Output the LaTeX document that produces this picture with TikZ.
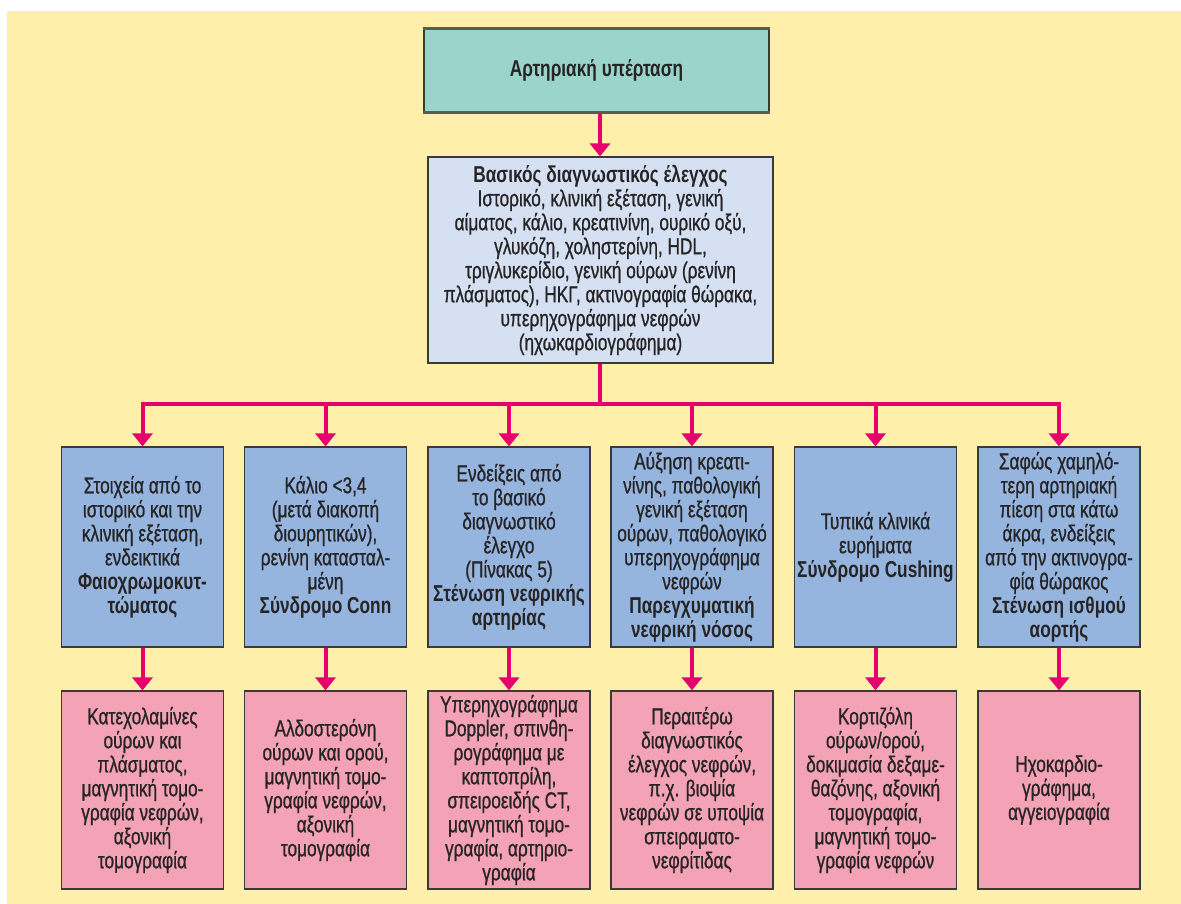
\documentclass[tikz,border=0pt]{standalone}
\usepackage{fontspec}
\setmainfont{Liberation Sans}[FakeStretch=0.75, UprightFeatures={FakeBold=0.8}]
\usetikzlibrary{arrows.meta}
\definecolor{bgY}{HTML}{FEEFAB}
\definecolor{tealF}{HTML}{9AD4CB}
\definecolor{lblueF}{HTML}{D5E0F2}
\definecolor{blueF}{HTML}{95B4DE}
\definecolor{pinkF}{HTML}{F4A2B5}
\definecolor{mag}{HTML}{E6006E}
\definecolor{boxline}{HTML}{3A3A3A}
\definecolor{txt}{HTML}{262425}
\begin{document}
\begin{tikzpicture}[x=1pt,y=-1pt,
  box/.style={draw=boxline, line width=1.2pt, align=center, inner sep=0pt, text=txt,
    font=\fontsize{23}{24}\selectfont},
  topbox/.style={box, fill=tealF, minimum width=345pt, minimum height=83pt},
  midbox/.style={box, fill=lblueF, minimum width=345pt, minimum height=206pt},
  bluebox/.style={box, fill=blueF, minimum width=162pt, minimum height=200pt},
  pinkbox/.style={box, fill=pinkF, minimum width=162pt, minimum height=198pt},
  conn/.style={draw=mag, line width=4pt},
  arr/.style={conn, -{Triangle[width=20pt,length=13pt]}}
]
\useasboundingbox (0,0) rectangle (1181,904);
\fill[bgY] (7,11) rectangle (1181,904);

\node[topbox] (top) at (596.5,70.5) {\textbf{Αρτηριακή υπέρταση}};
\draw[draw=black!65, line width=2.5pt] (top.north west) -- (top.north east);
\draw[draw=black!65, line width=2.5pt] (top.south west) -- (top.south east);

\node[midbox] (mid) at (600.5,260) {\textbf{Βασικός διαγνωστικός έλεγχος}\\
Ιστορικό, κλινική εξέταση, γενική\\
αίματος, κάλιο, κρεατινίνη, ουρικό οξύ,\\
γλυκόζη, χοληστερίνη, HDL,\\
τριγλυκερίδιο, γενική ούρων (ρενίνη\\
πλάσματος), ΗΚΓ, ακτινογραφία θώρακα,\\
υπερηχογράφημα νεφρών\\
(ηχωκαρδιογράφημα)};

\node[bluebox] (a1) at (142.5,547) {Στοιχεία από το\\ιστορικό και την\\κλινική εξέταση,\\ενδεικτικά\\\textbf{Φαιοχρωμοκυτ-}\\\textbf{τώματος}};
\node[bluebox] (a2) at (325.5,547) {Κάλιο <3,4\\(μετά διακοπή\\διουρητικών),\\ρενίνη κατασταλ-\\μένη\\\textbf{Σύνδρομο Conn}};
\node[bluebox] (a3) at (509,547) {Ενδείξεις από\\το βασικό\\διαγνωστικό\\έλεγχο\\(Πίνακας 5)\\\textbf{Στένωση νεφρικής}\\\textbf{αρτηρίας}};
\node[bluebox] (a4) at (692,547) {Αύξηση κρεατι-\\νίνης, παθολογική\\γενική εξέταση\\ούρων, παθολογικό\\υπερηχογράφημα\\νεφρών\\\textbf{Παρεγχυματική}\\\textbf{νεφρική νόσος}};
\node[bluebox] (a5) at (875.5,547) {Τυπικά κλινικά\\ευρήματα\\\textbf{Σύνδρομο Cushing}};
\node[bluebox] (a6) at (1059,547) {Σαφώς χαμηλό-\\τερη αρτηριακή\\πίεση στα κάτω\\άκρα, ενδείξεις\\από την ακτινογρα-\\φία θώρακος\\\textbf{Στένωση ισθμού}\\\textbf{αορτής}};

\node[pinkbox] (b1) at (142.5,790) {Κατεχολαμίνες\\ούρων και\\πλάσματος,\\μαγνητική τομο-\\γραφία νεφρών,\\αξονική\\τομογραφία};
\node[pinkbox] (b2) at (325.5,790) {Αλδοστερόνη\\ούρων και ορού,\\μαγνητική τομο-\\γραφία νεφρών,\\αξονική\\τομογραφία};
\node[pinkbox] (b3) at (509,790) {Υπερηχογράφημα\\Doppler, σπινθη-\\ρογράφημα με\\καπτοπρίλη,\\σπειροειδής CT,\\μαγνητική τομο-\\γραφία, αρτηριο-\\γραφία};
\node[pinkbox] (b4) at (692,790) {Περαιτέρω\\διαγνωστικός\\έλεγχος νεφρών,\\π.χ. βιοψία\\νεφρών σε υποψία\\σπειραματο-\\νεφρίτιδας};
\node[pinkbox] (b5) at (875.5,790) {Κορτιζόλη\\ούρων/ορού,\\δοκιμασία δεξαμε-\\θαζόνης, αξονική\\τομογραφία,\\μαγνητική τομο-\\γραφία νεφρών};
\node[pinkbox] (b6) at (1059,790) {Ηχοκαρδιο-\\γράφημα,\\αγγειογραφία};

\coordinate (j) at (600,404);
\draw[arr] (top.south -| j) -- (mid.north -| j);
\draw[conn] (mid.south -| j) -- (j);
\draw[conn, line cap=rect] (a1.north |- j) -- (a6.north |- j);
\foreach \i in {1,...,6} {
  \draw[arr] (a\i.north |- j) -- (a\i.north);
  \draw[arr] (a\i.south) -- (b\i.north);
}
\end{tikzpicture}
\end{document}
